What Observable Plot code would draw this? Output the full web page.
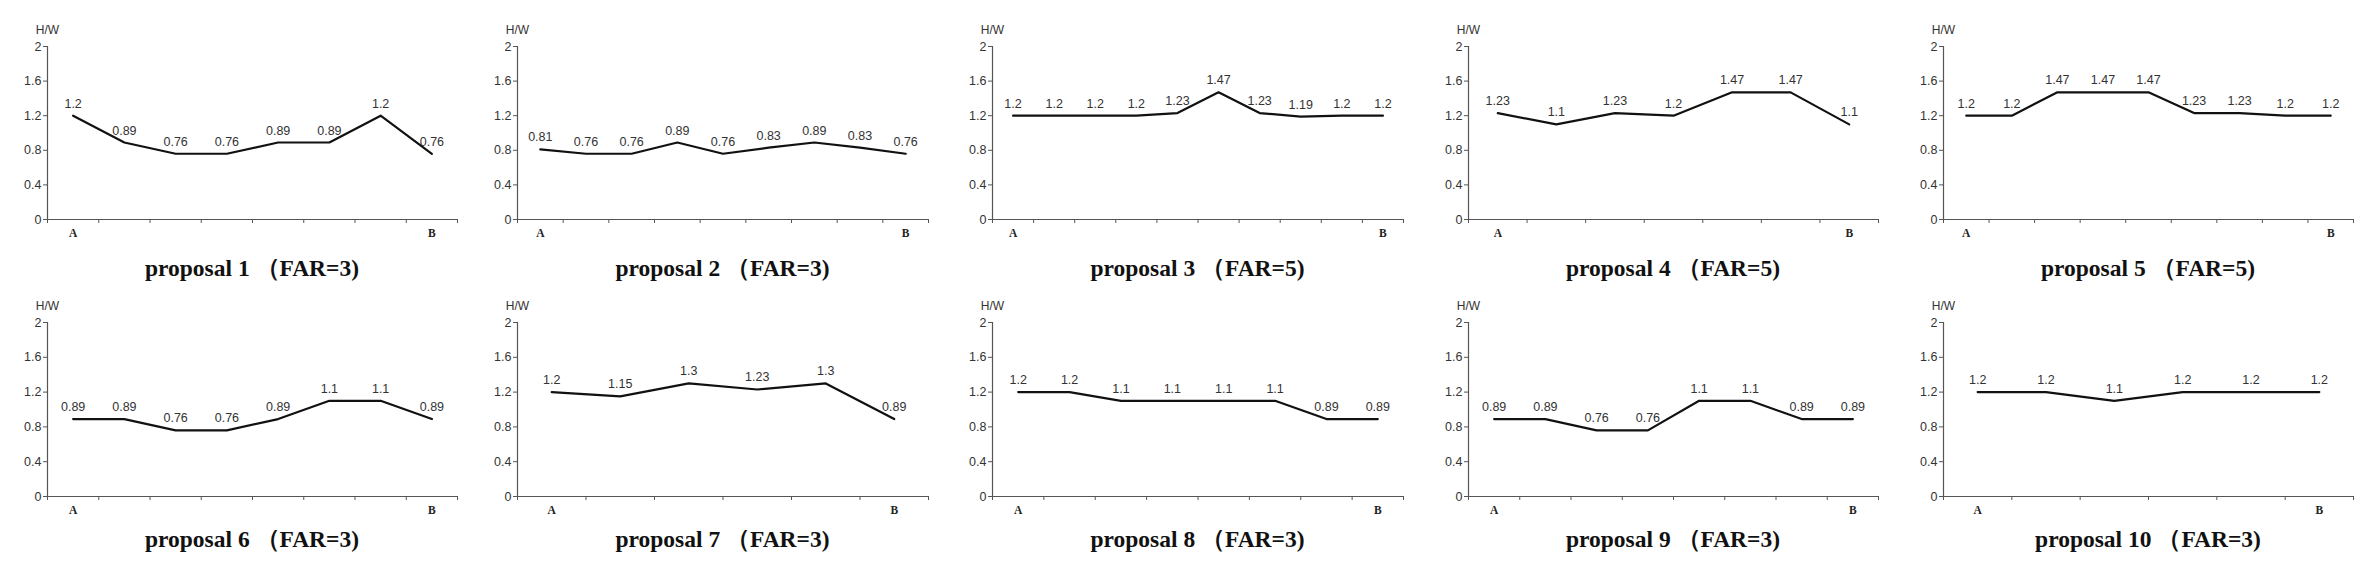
<!DOCTYPE html>
<html><head><meta charset="utf-8">
<script src="https://cdn.jsdelivr.net/npm/d3@7"></script>
<script src="https://cdn.jsdelivr.net/npm/@observablehq/plot@0.6"></script>
<style>
body{margin:0;background:#fff;}
#wrap{position:relative;width:2373px;height:565px;overflow:hidden;background:#fff;}
.panel{position:absolute;}
.panel svg{overflow:visible;}
.title{position:absolute;font-family:"Liberation Serif",serif;font-weight:bold;font-size:23.5px;color:#111;white-space:nowrap;transform:translateX(-50%);line-height:1;}
</style></head><body><div id="wrap"></div>
<script>
// ---- data ----
const proposalNames = ["proposal 1","proposal 2","proposal 3","proposal 4","proposal 5","proposal 6","proposal 7","proposal 8","proposal 9","proposal 10"];
const farValues = [3, 3, 5, 5, 5, 3, 3, 3, 3, 3];
const p1 = [1.2, 0.89, 0.76, 0.76, 0.89, 0.89, 1.2, 0.76];
const p2 = [0.81, 0.76, 0.76, 0.89, 0.76, 0.83, 0.89, 0.83, 0.76];
const p3 = [1.2, 1.2, 1.2, 1.2, 1.23, 1.47, 1.23, 1.19, 1.2, 1.2];
const p4 = [1.23, 1.1, 1.23, 1.2, 1.47, 1.47, 1.1];
const p5 = [1.2, 1.2, 1.47, 1.47, 1.47, 1.23, 1.23, 1.2, 1.2];
const p6 = [0.89, 0.89, 0.76, 0.76, 0.89, 1.1, 1.1, 0.89];
const p7 = [1.2, 1.15, 1.3, 1.23, 1.3, 0.89];
const p8 = [1.2, 1.2, 1.1, 1.1, 1.1, 1.1, 0.89, 0.89];
const p9 = [0.89, 0.89, 0.76, 0.76, 1.1, 1.1, 0.89, 0.89];
const p10 = [1.2, 1.2, 1.1, 1.2, 1.2, 1.2];
const endLabels = ["A", "B"];
const yTicks = [0, 0.4, 0.8, 1.2, 1.6, 2];
const yLabel = "H/W";

const series = [p1, p2, p3, p4, p5, p6, p7, p8, p9, p10];

// ---- layout ----
const colAxisX = [47, 517, 992, 1468, 1943];
const colRight = [457, 928, 1403, 1878, 2353];
const rowTop = [46, 322];
const rowBottom = [219, 496];
const titleBaseline = [276, 547];
const mL = 45, mR = 10, mT = 30, mB = 28;

const wrap = document.getElementById("wrap");

series.forEach((vals, i) => {
  const r = Math.floor(i / 5), c = i % 5;
  const n = vals.length;
  const data = vals.map((v, k) => ({x: k + 0.5, v}));
  const plotW = colRight[c] - colAxisX[c];
  const plotH = rowBottom[r] - rowTop[r];
  const chart = Plot.plot({
    width: mL + plotW + mR,
    height: mT + plotH + mB,
    marginLeft: mL, marginRight: mR, marginTop: mT, marginBottom: mB,
    x: {domain: [0, n]},
    y: {domain: [0, 2]},
    style: {fontFamily: "'Liberation Sans', Arial, sans-serif", fontSize: "12px", color: "#333", background: "transparent"},
    marks: [
      Plot.ruleY([0], {stroke: "#555", strokeWidth: 1.2}),
      Plot.ruleX([0], {stroke: "#555", strokeWidth: 1.2}),
      Plot.axisY({ticks: yTicks, tickSize: 4, tickPadding: 2, tickFormat: d => String(d), label: null, stroke: "#555", fill: "#333", fontSize: 12.5}),
      Plot.axisX({ticks: d3.range(n + 1), tickSize: 4, tickFormat: () => "", label: null, stroke: "#555"}),
      Plot.axisX({ticks: [0.5, n - 0.5], tickSize: 0, tickPadding: 9, tickFormat: d => (d < n / 2 ? endLabels[0] : endLabels[1]), label: null,
                  fontFamily: "'Liberation Serif', serif", fontWeight: "bold", fontSize: 11.5, fill: "#222"}),
      Plot.line(data, {x: "x", y: "v", stroke: "#111", strokeWidth: 2.2}),
      Plot.text(data, {x: "x", y: "v", text: d => String(d.v), dy: -12, fontSize: 12.5, fill: "#333"}),
      Plot.text([yLabel], {frameAnchor: "top-left", text: d => d, textAnchor: "middle", lineAnchor: "middle", dy: -16, fontSize: 12, fill: "#333"})
    ]
  });
  const div = document.createElement("div");
  div.className = "panel";
  div.style.left = (colAxisX[c] - mL) + "px";
  div.style.top = (rowTop[r] - mT) + "px";
  div.appendChild(chart);
  wrap.appendChild(div);

  const t = document.createElement("div");
  t.className = "title";
  t.textContent = proposalNames[i] + " （FAR=" + farValues[i] + ")";
  t.style.left = ((colAxisX[c] + colRight[c]) / 2) + "px";
  t.style.top = (titleBaseline[r] - 19) + "px";
  wrap.appendChild(t);
});
</script>
</body></html>
